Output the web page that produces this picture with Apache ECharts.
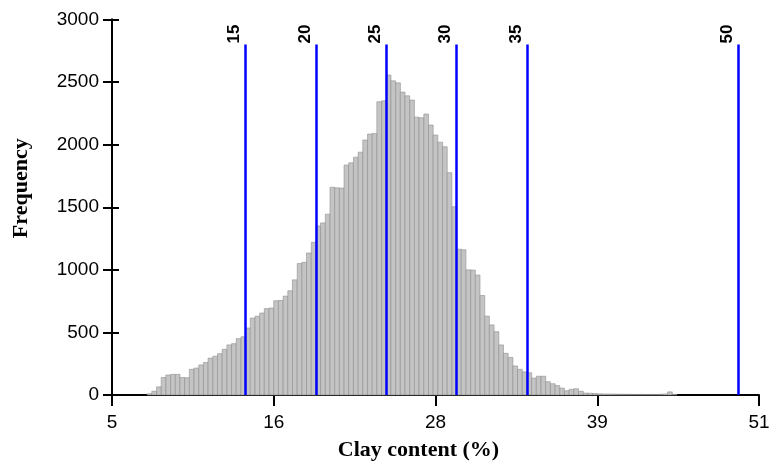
<!DOCTYPE html>
<html>
<head>
<meta charset="utf-8">
<script src="https://cdn.jsdelivr.net/npm/echarts@6/dist/echarts.min.js"></script>
<style>
html,body{margin:0;padding:0;background:#fff;}
#chart{width:778px;height:470px;}
</style>
</head>
<body>
<div id="chart"></div>
<script>
// Histogram bins (left edge of each bin, clay %), width 1/3 %
const binEdges = [
 7.5,7.83,8.17, 8.5,8.83,9.17, 9.5,9.83,10.17, 10.5,10.83,11.17, 11.5,11.83,12.17,
 12.5,12.83,13.17, 13.5,13.83,14.17, 14.5,14.83,15.17, 15.5,15.83,16.17, 16.5,16.83,17.17,
 17.5,17.83,18.17, 18.5,18.83,19.17, 19.5,19.83,20.17, 20.5,20.83,21.17, 21.5,21.83,22.17,
 22.5,22.83,23.17, 23.5,23.83,24.17, 24.5,24.83,25.17, 25.5,25.83,26.17, 26.5,26.83,27.17,
 27.5,27.83,28.17, 28.5,28.83,29.17, 29.5,29.83,30.17, 30.5,30.83,31.17, 31.5,31.83,32.17,
 32.5,32.83,33.17, 33.5,33.83,34.17, 34.5,34.83,35.17, 35.5,35.83,36.17, 36.5,36.83,37.17,
 37.5,37.83,38.17, 38.5,38.83,39.17, 39.5,39.83,40.17, 40.5,40.83,41.17, 41.5,41.83,42.17,
 42.5,42.83,43.17, 43.5,43.83,44.17, 44.5,44.83
];
const binWidth = 1/3;
const frequency = [
 10,30,65, 140,160,165, 165,140,138, 205,215,240, 260,295,310,
 330,365,400, 410,450,465, 535,615,630, 655,690,695, 753,755,790,
 833,920,1050, 1060,1134,1220, 1350,1375,1445, 1660,1655,1653, 1837,1855,1900,
 1940,2037,2085, 2090,2343,2350, 2556,2510,2494, 2420,2390,2356, 2220,2215,2245,
 2157,2077,2020, 1983,1776,1504, 1165,1160,1000, 998,958,795, 630,560,506,
 400,333,300, 232,205,185, 178,135,150, 150,106,90, 75,55,34,
 45,50,30, 15,14,12, 9,8,8, 7,6,6, 5,5,4,
 5,4,5, 4,6,8, 25,5
];
// Class-limit cut lines
const cutPositions = [14.5, 19.5, 24.5, 29.5, 34.5, 49.5];
const cutLabels = ['15', '20', '25', '30', '35', '50'];
const cutTop = 2800;
// Axis tick labels
const xTickLabels = ['5', '16', '28', '39', '51'];
const yTickLabels = ['0', '500', '1000', '1500', '2000', '2500', '3000'];

const chart = echarts.init(document.getElementById('chart'), null, {renderer: 'canvas'});
const sans = 'Liberation Sans, Arial, sans-serif';
const serif = 'Liberation Serif, Times New Roman, serif';

const option = {
  animation: false,
  backgroundColor: '#ffffff',
  grid: {left: 112, right: 19, top: 19.5, bottom: 75},
  xAxis: {
    type: 'value', min: 5, max: 51, interval: 11.5,
    name: 'Clay content (%)', nameLocation: 'middle', nameGap: 44,
    nameTextStyle: {fontFamily: serif, fontWeight: 'bold', fontSize: 22, color: '#000', padding: [0, 34, 0, 0]},
    axisLine: {show: true, lineStyle: {color: '#000', width: 2}},
    axisTick: {show: true, length: 11, lineStyle: {color: '#000', width: 2}},
    axisLabel: {
      fontFamily: sans, fontSize: 19, color: '#000', margin: 18,
      formatter: (v, i) => xTickLabels[i]
    },
    splitLine: {show: false}
  },
  yAxis: [{
    type: 'value', min: 0, max: 3000, interval: 500,
    name: 'Frequency', nameLocation: 'middle', nameGap: 80, nameRotate: 90,
    nameTextStyle: {fontFamily: serif, fontWeight: 'bold', fontSize: 22, color: '#000', padding: [0, 0, 0, 38]},
    axisLine: {show: true, lineStyle: {color: '#000', width: 2}},
    axisTick: {show: true, length: 9, lineStyle: {color: '#000', width: 2}},
    axisLabel: {
      fontFamily: sans, fontSize: 19, color: '#000', margin: 13,
      formatter: (v, i) => yTickLabels[i]
    },
    splitLine: {show: false}
  }, {
    type: 'value', min: 0, max: 3000, interval: 500, position: 'left', offset: 0,
    axisLine: {show: true, lineStyle: {color: '#000', width: 2}},
    axisTick: {show: true, inside: true, length: 7, lineStyle: {color: '#000', width: 2}},
    axisLabel: {show: false},
    splitLine: {show: false}
  }],
  series: [{
    type: 'custom',
    data: binEdges.map((e, i) => [e, frequency[i]]),
    encode: {x: 0, y: 1},
    renderItem: function (params, api) {
      const x0 = api.value(0), f = api.value(1);
      const p0 = api.coord([x0, f]);
      const p1 = api.coord([x0 + binWidth, 0]);
      return {
        type: 'rect',
        shape: {x: p0[0], y: p0[1], width: p1[0] - p0[0], height: p1[1] - p0[1]},
        style: {fill: '#c4c4c4', stroke: '#8e8e8e', lineWidth: 0.6}
      };
    },
    z: 2
  }, {
    type: 'line',
    data: [],
    z: 5,
    markLine: {
      silent: true, symbol: ['none', 'none'],
      lineStyle: {color: '#0000ff', width: 2.5, type: 'solid'},
      label: {show: false},
      data: cutPositions.map(v => [{coord: [v, 0]}, {coord: [v, cutTop]}])
    },
    markPoint: {
      silent: true, symbol: 'rect', symbolSize: 1,
      itemStyle: {color: 'rgba(0,0,0,0)'},
      label: {
        show: true, formatter: '{b}', position: [-2, -10], align: 'center', verticalAlign: 'bottom',
        rotate: 90, fontFamily: sans, fontWeight: 'bold', fontSize: 17, color: '#000'
      },
      data: cutPositions.map((v, i) => ({name: cutLabels[i], coord: [v, cutTop]}))
    }
  }]
};
chart.setOption(option);
</script>
</body>
</html>
